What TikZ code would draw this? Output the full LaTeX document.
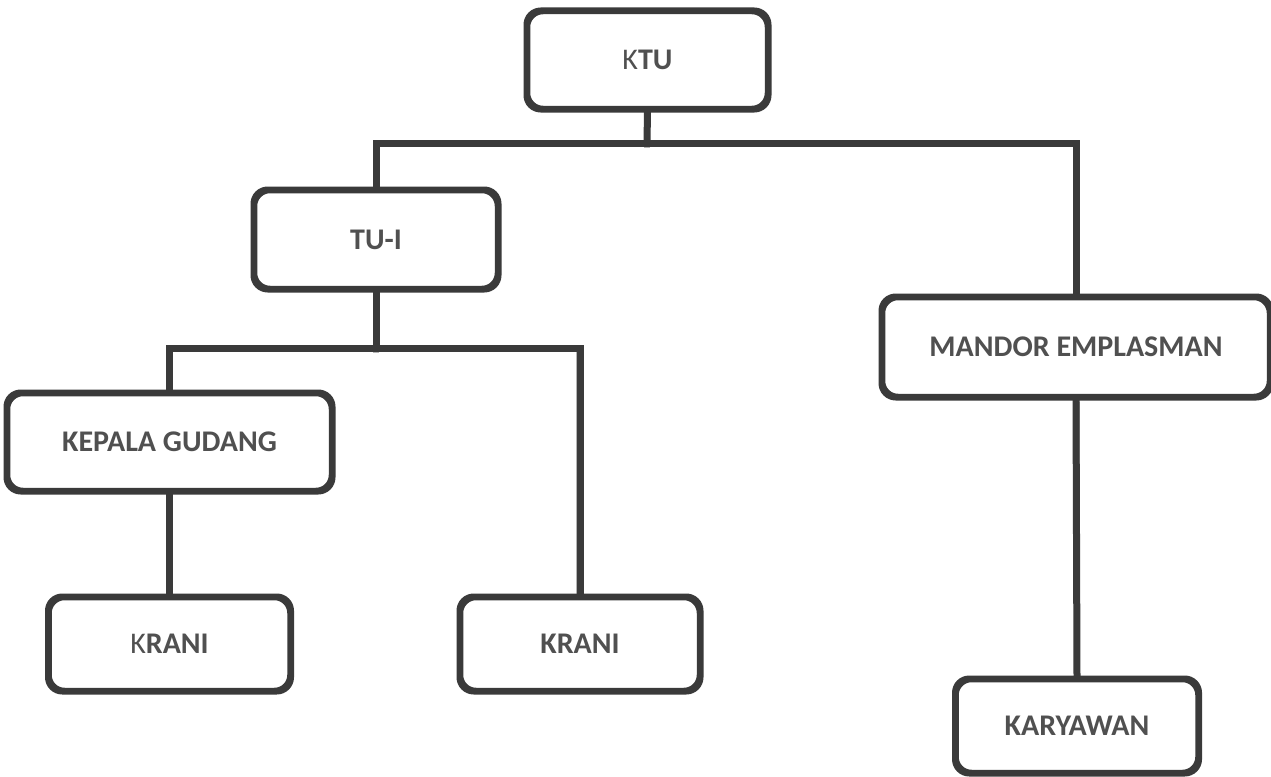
\documentclass[tikz,border=0pt]{standalone}
\usepackage{fontspec}
\setmainfont{Carlito}
\definecolor{linec}{HTML}{3A3A3A}
\definecolor{txtc}{HTML}{505050}
\definecolor{shadc}{HTML}{B4B4B4}
\begin{document}
\begin{tikzpicture}[x=1pt,y=-1pt,
  box/.style={draw=linec, line width=4.5pt, rounded corners=15pt, fill=white,
    text=txtc, font=\fontsize{30}{33}\selectfont\bfseries, inner sep=0pt},
  conn/.style={draw=linec, line width=7pt, line join=miter},
  connsh/.style={draw=shadc, line width=6pt, line join=miter}]
\useasboundingbox (0,0) rectangle (1271,776);
\fill[white] (0,0) rectangle (1271,776);
% coordinates of bus lines
\coordinate (b1) at (647,143);
\coordinate (b2) at (376,348);
% shadows
\begin{scope}[shift={(0,5)}]
\draw[connsh] (647,108) -- (647,143);
\draw[connsh] (376,191) |- (b1) -| (1077,298);
\draw[connsh] (376,288) -- (376,348);
\draw[connsh] (170,394) |- (b2) -| (579,598);
\draw[connsh] (170,490) -- (170,598);
\draw[connsh] (1077,397) -- (1077,680);
\end{scope}
% nodes
\node[box, minimum width=239pt, minimum height=96pt] (ktu) at (647.5,60) {\mdseries K\bfseries TU};
\node[box, minimum width=242pt, minimum height=97pt] (tui) at (376,239.5) {TU-I};
\node[box, minimum width=323pt, minimum height=96pt] (kg) at (169.5,442) {KEPALA GUDANG};
\node[box, minimum width=240pt, minimum height=92pt] (kr1) at (169.5,644) {\mdseries K\bfseries RANI};
\node[box, minimum width=238pt, minimum height=92pt] (kr2) at (580,644) {KRANI};
\node[box, minimum width=386pt, minimum height=98pt] (mandor) at (1076,347) {MANDOR EMPLASMAN};
\node[box, minimum width=241pt, minimum height=92pt] (kary) at (1077,726) {KARYAWAN};
% connectors
\draw[conn] (ktu.south) -- (b1);
\draw[conn] (tui.north) |- (b1) -| (mandor.north);
\draw[conn] (tui.south) -- (b2);
\draw[conn] (kg.north) |- (b2) -| (kr2.north);
\draw[conn] (kg.south) -- (kr1.north);
\draw[conn] (mandor.south) -- (kary.north);
% redraw box borders on top of connector ends
\foreach \n in {ktu,tui,kg,kr1,kr2,mandor,kary}{
  \draw[draw=linec, line width=4.5pt, rounded corners=15pt]
    (\n.north west) rectangle (\n.south east);
}
\end{tikzpicture}
\end{document}
